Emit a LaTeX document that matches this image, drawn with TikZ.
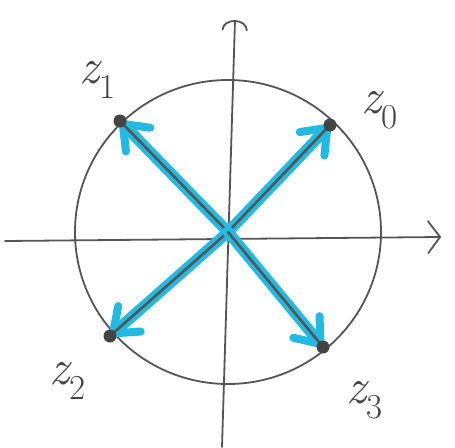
\documentclass[tikz,border=0pt]{standalone}
\usepackage{tikz}
\usetikzlibrary{arrows.meta}
\definecolor{pencil}{RGB}{85,85,85}
\definecolor{marker}{RGB}{35,185,225}

\begin{document}
\begin{tikzpicture}[x=1pt, y=-1pt,
    axis/.style={draw=pencil, line width=1.8pt, line cap=round},
    ring/.style={draw=pencil, line width=1.8pt},
    vec/.style={draw=marker, line width=11pt, line cap=round, -{Straight Barb[length=22pt, width=34pt, line width=8pt, round]}},
    stem/.style={draw=pencil, line width=2.6pt, line cap=round},
    tip/.style={circle, fill=pencil!80!black, inner sep=0pt, minimum size=13pt},
    lbl/.style={text=pencil!80!black, font=\fontsize{50}{56}\selectfont\itshape}
]
\useasboundingbox (0,0) rectangle (455,447);

% Centre, circle, axes
\coordinate (o) at (228,232);
\draw[ring] (o) ellipse [x radius=153, y radius=152];
\coordinate (xl) at (5,241);
\coordinate (xr) at (441,237);
\coordinate (yb) at (222,447);
\coordinate (yt) at (235,20);
\draw[axis, -{Straight Barb[length=12pt, width=32pt, line width=1.8pt, round]}] (xl) -- (xr);
\draw[axis, -{Arc Barb[length=10pt, width=26pt, line width=1.8pt, round]}] (yb) -- (yt);

% Roots on the circle
\coordinate (p0) at (330,125);
\coordinate (p1) at (120,121);
\coordinate (p2) at (110,336);
\coordinate (p3) at (323,347);

% Vectors
\foreach \p in {p0,p1,p2,p3} {
  \draw[vec] (o) -- (\p);
  \draw[stem] (o) -- (\p);
  \node[tip] at (\p) {};
}

% Labels
\node[lbl] (l0) at (380,110) {z\textsubscript{\upshape 0}};
\node[lbl] (l1) at (98,80) {z\textsubscript{\upshape 1}};
\node[lbl] (l2) at (68,381) {z\textsubscript{\upshape 2}};
\node[lbl] (l3) at (365,400) {z\textsubscript{\upshape 3}};

\end{tikzpicture}
\end{document}
